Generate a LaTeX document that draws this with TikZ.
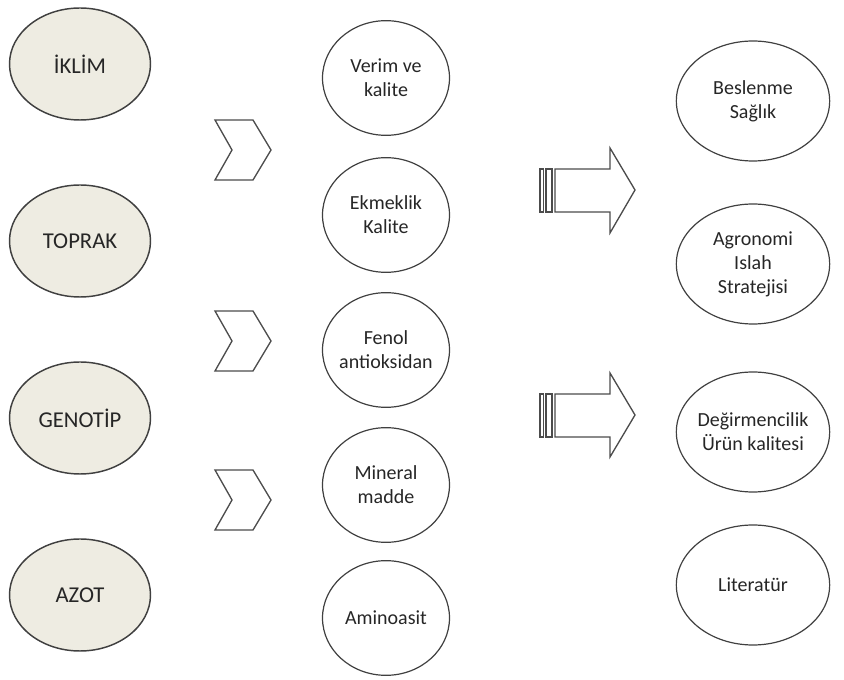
\documentclass[tikz,border=0pt]{standalone}
\usepackage{fontspec}
\setmainfont{Carlito}
\usetikzlibrary{shapes.geometric}
\usepackage{xcolor}
\definecolor{ovalfill}{RGB}{238,236,226}
\definecolor{edgegray}{RGB}{64,64,64}
\definecolor{textgray}{RGB}{38,38,38}

\begin{document}
\begin{tikzpicture}[x=0.75pt,y=-0.75pt,
    leftoval/.style={ellipse, draw=edgegray, line width=1.1pt, fill=ovalfill,
        minimum width=105.75pt, minimum height=84pt, inner sep=0pt},
    midoval/.style={ellipse, draw=edgegray, line width=0.9pt,
        minimum width=95.25pt, minimum height=86pt, inner sep=0pt},
    rightoval/.style={ellipse, draw=edgegray, line width=0.9pt,
        minimum width=115pt, minimum height=90pt, inner sep=0pt},
    ovaltext/.style={align=center, text=textgray, font=\fontsize{15}{18}\selectfont},
    bigtext/.style={align=center, text=textgray, font=\fontsize{17}{20}\selectfont},
    shapeline/.style={draw=black!70, line width=1pt, line join=miter}]
    \useasboundingbox (0,0) rectangle (844,680);

    % left column
    \node[leftoval] (iklim) at (80,64) {};
    \node[bigtext] (iklim-t) at (iklim) {İKLİM};
    \node[leftoval] (toprak) at (80,241) {};
    \node[bigtext] (toprak-t) at (toprak) {TOPRAK};
    \node[leftoval] (genotip) at (80,418) {};
    \node[bigtext] (genotip-t) at (genotip) {GENOTİP};
    \node[leftoval] (azot) at (80,595) {};
    \node[bigtext] (azot-t) at (azot) {AZOT};

    % chevrons
    \draw[shapeline] (215,120) -- (253,120) -- (271,150) -- (253,180) -- (215,180) -- (232,150) -- cycle;
    \draw[shapeline] (215,311) -- (253,311) -- (271,341) -- (253,371) -- (215,371) -- (232,341) -- cycle;
    \draw[shapeline] (215,470) -- (253,470) -- (271,500) -- (253,530) -- (215,530) -- (232,500) -- cycle;

    % middle column
    \node[midoval] (verim) at (386,78) {};
    \node[ovaltext] (verim-t) at (verim) {Verim ve\\kalite};
    \node[midoval] (ekmek) at (386,215) {};
    \node[ovaltext] (ekmek-t) at (ekmek) {Ekmeklik\\Kalite};
    \node[midoval] (fenol) at (386,350) {};
    \node[ovaltext] (fenol-t) at (fenol) {Fenol\\antioksidan};
    \node[midoval] (mineral) at (386,485) {};
    \node[ovaltext] (mineral-t) at (mineral) {Mineral\\madde};
    \node[midoval] (amino) at (386,618) {};
    \node[ovaltext] (amino-t) at (amino) {Aminoasit};

    % striped arrows
    \draw[shapeline] (540,169) rectangle (543.5,212);
    \draw[shapeline] (546,169) rectangle (552,212);
    \draw[shapeline] (555,169) -- (610,169) -- (610,148) -- (635,190) -- (610,233) -- (610,212) -- (555,212) -- cycle;
    \draw[shapeline] (540,394) rectangle (543.5,437);
    \draw[shapeline] (546,394) rectangle (552,437);
    \draw[shapeline] (555,394) -- (610,394) -- (610,373) -- (635,415) -- (610,457) -- (610,437) -- (555,437) -- cycle;

    % right column
    \node[rightoval] (beslenme) at (753,101) {};
    \node[ovaltext] (beslenme-t) at (beslenme) {Beslenme\\Sağlık};
    \node[rightoval] (agronomi) at (753,264) {};
    \node[ovaltext] (agronomi-t) at (agronomi) {Agronomi\\Islah\\Stratejisi};
    \node[rightoval] (degirmen) at (753,432) {};
    \node[ovaltext] (degirmen-t) at (degirmen) {Değirmencilik\\Ürün kalitesi};
    \node[rightoval] (literatur) at (753,585) {};
    \node[ovaltext] (literatur-t) at (literatur) {Literatür};
\end{tikzpicture}
\end{document}
